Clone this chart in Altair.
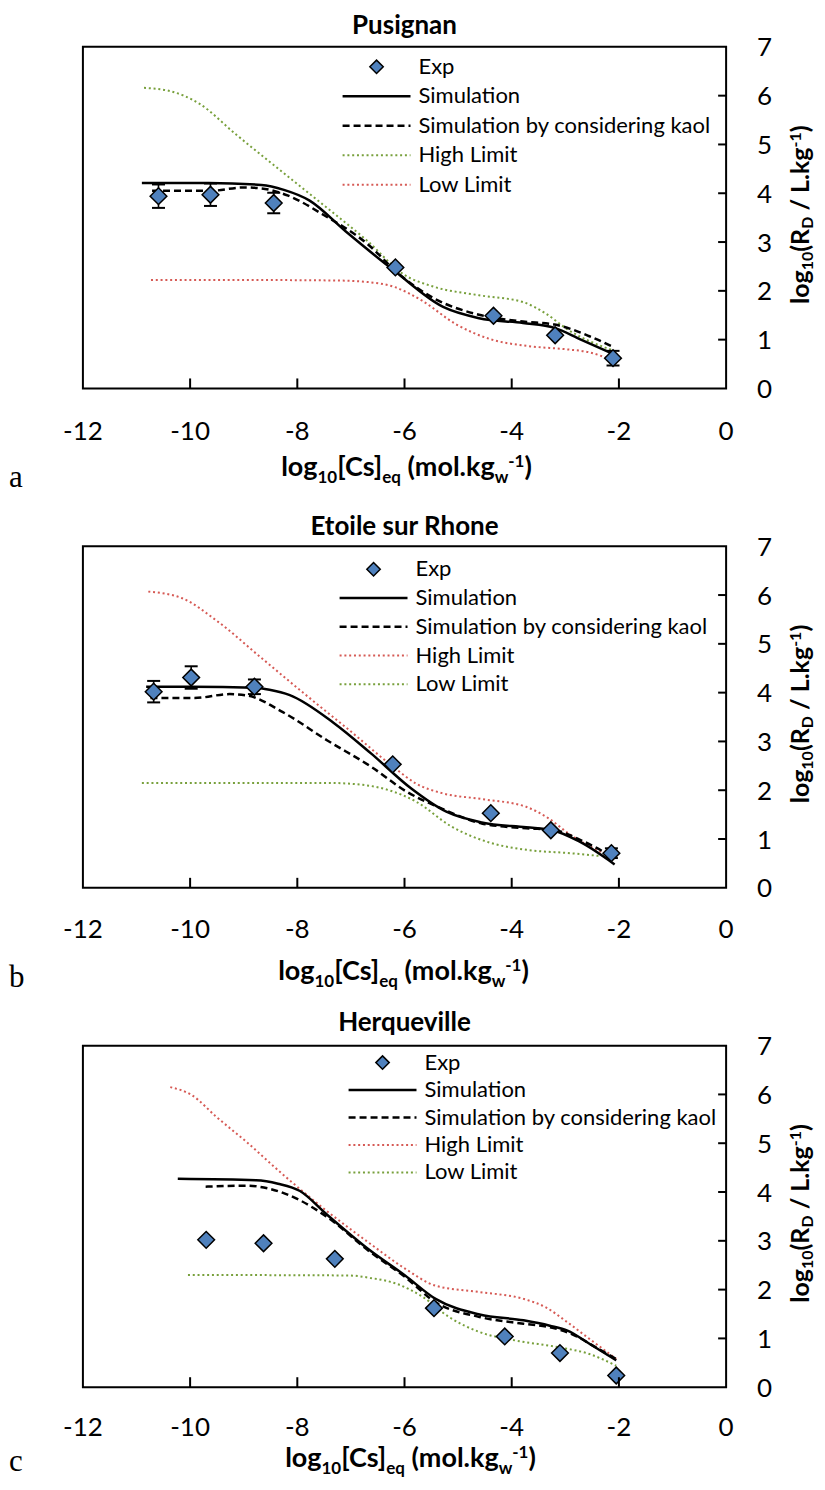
import glob
import os
import subprocess

import altair as alt
import pandas as pd

# ---------------------------------------------------------------- data
X_TICKS = [-12, -10, -8, -6, -4, -2, 0]
X_INNER_TICKS = [-10, -8, -6, -4, -2]
Y_TICKS = [0, 1, 2, 3, 4, 5, 6, 7]
Y_INNER_TICKS = [1, 2, 3, 4, 5, 6]

TITLES = ["Pusignan", "Etoile sur Rhone", "Herqueville"]
LETTERS = ["a", "b", "c"]
LEGEND_LABELS = ["Exp", "Simulation", "Simulation by considering kaol", "High Limit", "Low Limit"]

# --- Pusignan
A_EXP_X = [-10.59, -9.62, -8.44, -6.17, -4.34, -3.19, -2.11]
A_EXP_Y = [3.94, 3.97, 3.80, 2.48, 1.49, 1.09, 0.62]
A_EXP_ERR = [0.24, 0.23, 0.21, 0.0, 0.0, 0.0, 0.15]
A_SIM_X = [-10.9, -9.66, -8.67, -8.25, -7.77, -7.1, -6.19, -5.28, -4.61, -3.79, -3.2, -2.71, -2.09]
A_SIM_Y = [4.21, 4.21, 4.17, 4.07, 3.85, 3.22, 2.41, 1.67, 1.44, 1.34, 1.24, 1.0, 0.70]
A_KAOL_X = [-10.71, -9.62, -9.0, -8.67, -8.17, -7.5, -6.68, -6.1, -5.44, -4.61, -3.79, -3.2, -2.55, -2.09]
A_KAOL_Y = [4.05, 4.05, 4.12, 4.10, 3.95, 3.55, 2.95, 2.34, 1.84, 1.51, 1.37, 1.31, 1.07, 0.84]
A_HIGH_X = [-10.86, -10.4, -9.82, -9.16, -8.34, -7.5, -6.68, -6.02, -5.44, -4.61, -3.79, -3.37, -2.96, -2.09]
A_HIGH_Y = [6.16, 6.10, 5.83, 5.22, 4.49, 3.75, 3.01, 2.34, 2.08, 1.91, 1.77, 1.54, 1.21, 0.77]
A_LOW_X = [-10.73, -8.34, -7.18, -6.68, -6.19, -5.69, -5.03, -4.37, -3.7, -2.96, -2.55, -2.17]
A_LOW_Y = [2.22, 2.22, 2.21, 2.18, 2.08, 1.81, 1.31, 1.0, 0.87, 0.80, 0.74, 0.6]

# --- Etoile sur Rhone
B_EXP_X = [-10.68, -9.98, -8.80, -6.22, -4.39, -3.27, -2.14]
B_EXP_Y = [4.02, 4.31, 4.12, 2.53, 1.53, 1.18, 0.71]
B_EXP_ERR = [0.22, 0.23, 0.15, 0.0, 0.0, 0.0, 0.1]
B_SIM_X = [-10.82, -9.98, -8.8, -8.52, -8.14, -7.32, -6.62, -5.88, -5.22, -4.56, -3.73, -3.24, -2.74, -2.08]
B_SIM_Y = [4.12, 4.12, 4.10, 4.06, 3.95, 3.38, 2.75, 2.04, 1.56, 1.34, 1.24, 1.18, 0.95, 0.48]
B_KAOL_X = [-10.74, -9.92, -9.26, -8.93, -8.27, -7.44, -6.62, -5.96, -5.38, -4.56, -3.73, -3.24, -2.66, -2.08]
B_KAOL_Y = [3.89, 3.89, 3.97, 3.94, 3.60, 3.02, 2.48, 1.97, 1.66, 1.32, 1.22, 1.19, 0.95, 0.61]
B_HIGH_X = [-10.78, -10.16, -9.5, -8.68, -7.86, -7.03, -6.21, -5.79, -5.3, -4.56, -3.73, -3.32, -2.91, -2.17]
B_HIGH_Y = [6.07, 5.94, 5.47, 4.72, 3.97, 3.23, 2.48, 2.14, 1.94, 1.82, 1.66, 1.43, 1.09, 0.65]
B_LOW_X = [-10.9, -7.44, -6.78, -6.29, -5.79, -5.13, -4.39, -3.73, -2.91, -2.33]
B_LOW_Y = [2.15, 2.15, 2.11, 2.0, 1.77, 1.26, 0.92, 0.78, 0.71, 0.65]

# --- Herqueville
C_EXP_X = [-9.70, -8.63, -7.30, -5.45, -4.13, -3.10, -2.05]
C_EXP_Y = [3.02, 2.95, 2.63, 1.62, 1.04, 0.70, 0.24]
C_EXP_ERR = [0.0, 0.0, 0.0, 0.0, 0.0, 0.0, 0.0]
C_SIM_X = [-10.23, -8.77, -8.36, -7.95, -7.46, -6.64, -5.99, -5.42, -4.60, -3.78, -3.29, -2.96, -2.55, -2.05]
C_SIM_Y = [4.27, 4.24, 4.17, 4.02, 3.55, 2.80, 2.29, 1.81, 1.49, 1.37, 1.26, 1.16, 0.89, 0.55]
C_KAOL_X = [-9.71, -8.94, -8.53, -7.95, -7.46, -6.64, -5.99, -5.42, -4.60, -3.78, -3.29, -2.88, -2.39, -2.05]
C_KAOL_Y = [4.11, 4.13, 4.07, 3.83, 3.50, 2.77, 2.26, 1.74, 1.44, 1.30, 1.23, 1.09, 0.79, 0.58]
C_HIGH_X = [-10.37, -9.96, -9.51, -8.94, -8.28, -7.46, -6.64, -5.99, -5.42, -4.6, -3.78, -3.37, -2.96, -2.55, -2.05]
C_HIGH_Y = [6.15, 5.98, 5.54, 5.02, 4.37, 3.62, 2.94, 2.43, 2.08, 1.95, 1.81, 1.64, 1.33, 0.99, 0.58]
C_LOW_X = [-10.04, -7.05, -6.64, -6.15, -5.66, -5.17, -4.6, -3.94, -3.13, -2.55, -2.05]
C_LOW_Y = [2.30, 2.29, 2.24, 2.12, 1.85, 1.44, 1.13, 0.96, 0.82, 0.68, 0.44]

# ---------------------------------------------------------------- style
FONT = "Lato"
BLUE = "#4F81BD"
GREEN = "#78A03C"
RED = "#D65A55"
W, H = 644, 342
SPACING = 158
YLAB_X = 31     # px right of the plot's right edge (tick labels)
YTITLE_X = 83   # px right of the plot's right edge (title baseline)

STYLES = [
    dict(high=GREEN, low=RED, leg_x=260, leg_y=20, leg_dy=29.5, title_y=-13, xl_y=43.5, xt_y=88, xt_dx=2, letter_y=99),
    dict(high=RED, low=GREEN, leg_x=257, leg_y=23, leg_dy=28.8, title_y=-11, xl_y=42.5, xt_y=92, xt_dx=-1, letter_y=99),
    dict(high=RED, low=GREEN, leg_x=266, leg_y=17, leg_dy=27.5, title_y=-15, xl_y=40.5, xt_y=80, xt_dx=6, letter_y=84),
]

# ---------------------------------------------------------------- text measuring
EM_BOLD = {"l": .27, "o": .58, "g": .53, "1": .58, "0": .58, "[": .33, "C": .66, "s": .45, "]": .33,
           "e": .54, "q": .58, " ": .19, "(": .33, "m": .86, ".": .24, "k": .54, "w": .80, "-": .37,
           ")": .33, "R": .64, "D": .74, "/": .38, "L": .51}
_FONT_CACHE = {}


def _font_file(bold):
    if bold in _FONT_CACHE:
        return _FONT_CACHE[bold]
    path = None
    try:
        q = "Lato:bold" if bold else "Lato:regular"
        out = subprocess.run(["fc-match", "-f", "%{file}", q], capture_output=True,
                             text=True, timeout=5).stdout.strip()
        if "lato" in out.lower() and os.path.exists(out):
            path = out
    except Exception:
        path = None
    if path is None:
        name = "Lato-Bold" if bold else "Lato-Regular"
        cands = []
        for root in ["/usr/share/fonts", "/usr/local/share/fonts", os.path.expanduser("~/.fonts")]:
            cands += glob.glob(os.path.join(root, "**", "*"), recursive=True)
        hits = [p for p in cands if os.path.basename(p).startswith(name)]
        path = hits[0] if hits else None
    _FONT_CACHE[bold] = path
    return path


def text_width(s, size, bold=True):
    path = _font_file(bold)
    if path:
        try:
            from PIL import ImageFont
            return ImageFont.truetype(path, int(round(size))).getlength(s) * size / int(round(size))
        except Exception:
            pass
        try:
            from fontTools.ttLib import TTFont
            f = TTFont(path)
            cmap = f.getBestCmap()
            hmtx = f["hmtx"]
            upm = f["head"].unitsPerEm
            return sum(hmtx[cmap.get(ord(c), ".notdef")][0] for c in s) * size / upm
        except Exception:
            pass
    return sum(EM_BOLD.get(c, 0.55) for c in s) * size


# ---------------------------------------------------------------- helpers
ONE = pd.DataFrame({"k": [0]})
xs = alt.Scale(domain=[-12, 0], nice=False, zero=False)
ys = alt.Scale(domain=[0, 7], nice=False, zero=False)


def X(f):
    return alt.X(f, scale=xs, axis=None)


def Y(f):
    return alt.Y(f, scale=ys, axis=None)


def label(text, x, y, size, bold=False, font=FONT, angle=0, align="left", baseline="alphabetic"):
    kw = dict(text=text, font=font, fontSize=size, fontWeight="bold" if bold else "normal",
              align=align, baseline=baseline, color="black")
    if angle:
        kw["angle"] = angle
    return alt.Chart(ONE).mark_text(**kw).encode(x=alt.value(x), y=alt.value(y))


def composite(segments, center, base, rotate=False):
    """segments: (text, size, baseline shift). Placed one after another, centred on `center`."""
    items = []
    for s, size, dy in segments:
        lead = len(s) - len(s.lstrip(" "))
        lead_w = text_width(" ", size) * lead
        body = s.strip()
        items.append((body, size, dy, lead_w, text_width(body, size)))
    total = sum(i[3] + i[4] for i in items)
    pos = -total / 2
    layers = []
    for body, size, dy, lead_w, w in items:
        pos += lead_w
        if rotate:
            layers.append(label(body, base + dy, center - pos, size, bold=True, angle=270))
        else:
            layers.append(label(body, center + pos, base + dy, size, bold=True))
        pos += w
    return layers


def line_df(xv, yv):
    return pd.DataFrame({"x": xv, "y": yv})


def panel(i, exp_x, exp_y, exp_err, sim, kaol, high, low):
    st = STYLES[i]
    dot = [2, 2.8]
    dash = [7, 4]
    layers = []
    layers.append(alt.Chart(line_df(*low)).mark_line(interpolate="monotone", color=st["low"],
                                                     strokeWidth=2, strokeDash=dot)
                  .encode(x=X("x:Q"), y=Y("y:Q")))
    layers.append(alt.Chart(line_df(*high)).mark_line(interpolate="monotone", color=st["high"],
                                                      strokeWidth=2, strokeDash=dot)
                  .encode(x=X("x:Q"), y=Y("y:Q")))
    layers.append(alt.Chart(line_df(*kaol)).mark_line(interpolate="monotone", color="black",
                                                      strokeWidth=2.5, strokeDash=dash)
                  .encode(x=X("x:Q"), y=Y("y:Q")))
    layers.append(alt.Chart(line_df(*sim)).mark_line(interpolate="monotone", color="black",
                                                     strokeWidth=2.5)
                  .encode(x=X("x:Q"), y=Y("y:Q")))

    exp = pd.DataFrame({"x": exp_x, "y": exp_y, "e": exp_err})
    err = exp[exp["e"] > 0].copy()
    if len(err):
        err["lo"] = err["y"] - err["e"]
        err["hi"] = err["y"] + err["e"]
        layers.append(alt.Chart(err).mark_rule(color="black", strokeWidth=1.6)
                      .encode(x=X("x:Q"), y=Y("lo:Q"), y2="hi:Q"))
        caps = pd.concat([err[["x", "lo"]].rename(columns={"lo": "c"}),
                          err[["x", "hi"]].rename(columns={"hi": "c"})])
        layers.append(alt.Chart(caps).mark_tick(orient="horizontal", color="black", size=13,
                                                thickness=2, opacity=1)
                      .encode(x=X("x:Q"), y=Y("c:Q")))
    layers.append(alt.Chart(exp).mark_point(shape="diamond", filled=True, fill=BLUE, stroke="black",
                                            strokeWidth=1.5, size=280, opacity=1)
                  .encode(x=X("x:Q"), y=Y("y:Q")))

    # inward ticks
    layers.append(alt.Chart(pd.DataFrame({"t": X_INNER_TICKS})).mark_rule(color="black", strokeWidth=2)
                  .encode(x=X("t:Q"), y=alt.value(H), y2=alt.value(H - 10)))
    layers.append(alt.Chart(pd.DataFrame({"t": Y_INNER_TICKS})).mark_rule(color="black", strokeWidth=2)
                  .encode(y=Y("t:Q"), x=alt.value(W), x2=alt.value(W - 8)))

    # tick labels (drawn through the scales)
    xl = pd.DataFrame({"t": X_TICKS, "lab": [str(v) for v in X_TICKS]})
    layers.append(alt.Chart(xl).mark_text(font=FONT, fontSize=26, align="center", baseline="middle",
                                          color="black")
                  .encode(x=X("t:Q"), y=alt.value(H + st["xl_y"]), text="lab:N"))
    yl = pd.DataFrame({"t": Y_TICKS, "lab": [str(v) for v in Y_TICKS]})
    layers.append(alt.Chart(yl).mark_text(font=FONT, fontSize=26, align="left", baseline="middle",
                                          color="black", dy=1.5)
                  .encode(y=Y("t:Q"), x=alt.value(W + YLAB_X), text="lab:N"))

    # legend
    x0 = st["leg_x"]
    rows = [st["leg_y"] + st["leg_dy"] * k for k in range(5)]
    layers.append(alt.Chart(ONE).mark_point(shape="diamond", filled=True, fill=BLUE, stroke="black",
                                            strokeWidth=1.5, size=180, opacity=1)
                  .encode(x=alt.value(x0 + 34), y=alt.value(rows[0])))
    line_styles = [("black", 2.5, None), ("black", 2.5, dash), (st["high"], 2, dot), (st["low"], 2, dot)]
    for k, (col, sw, sd) in enumerate(line_styles):
        kw = dict(color=col, strokeWidth=sw)
        if sd:
            kw["strokeDash"] = sd
        layers.append(alt.Chart(ONE).mark_rule(**kw)
                      .encode(x=alt.value(x0), x2=alt.value(x0 + 68), y=alt.value(rows[k + 1])))
    for k, txt in enumerate(LEGEND_LABELS):
        layers.append(label(txt, x0 + 76, rows[k], 22, baseline="middle"))

    # titles
    layers.append(label(TITLES[i], W / 2, st["title_y"], 26, bold=True, align="center"))
    layers.append(label(LETTERS[i], -74, H + st["letter_y"], 31, font="Liberation Serif"))
    xt = [("log", 27, 0), ("10", 17, 7), ("[Cs]", 27, 0), ("eq", 17, 7), (" (mol.kg", 27, 0),
          ("w", 17, 7), ("-1", 17, -9), (")", 27, 0)]
    layers += composite(xt, W / 2 + st["xt_dx"], H + st["xt_y"])
    yt = [("log", 25, 0), ("10", 16, 4), ("(R", 25, 0), ("D", 16, 4), (" / L.kg", 25, 0),
          ("-1", 16, -8), (")", 25, 0)]
    layers += composite(yt, H / 2 - 3, W + YTITLE_X, rotate=True)

    return alt.layer(*layers).properties(width=W, height=H)


panels = [
    panel(0, A_EXP_X, A_EXP_Y, A_EXP_ERR, (A_SIM_X, A_SIM_Y), (A_KAOL_X, A_KAOL_Y),
          (A_HIGH_X, A_HIGH_Y), (A_LOW_X, A_LOW_Y)),
    panel(1, B_EXP_X, B_EXP_Y, B_EXP_ERR, (B_SIM_X, B_SIM_Y), (B_KAOL_X, B_KAOL_Y),
          (B_HIGH_X, B_HIGH_Y), (B_LOW_X, B_LOW_Y)),
    panel(2, C_EXP_X, C_EXP_Y, C_EXP_ERR, (C_SIM_X, C_SIM_Y), (C_KAOL_X, C_KAOL_Y),
          (C_HIGH_X, C_HIGH_Y), (C_LOW_X, C_LOW_Y)),
]

chart = (
    alt.vconcat(*panels, spacing=SPACING, bounds="flush")
    .properties(padding={"left": 0, "top": 3, "right": 0, "bottom": 0})
    .configure_view(stroke="black", strokeWidth=2)
)

chart.save("out.html", embed_options={"renderer": "svg", "actions": False})
